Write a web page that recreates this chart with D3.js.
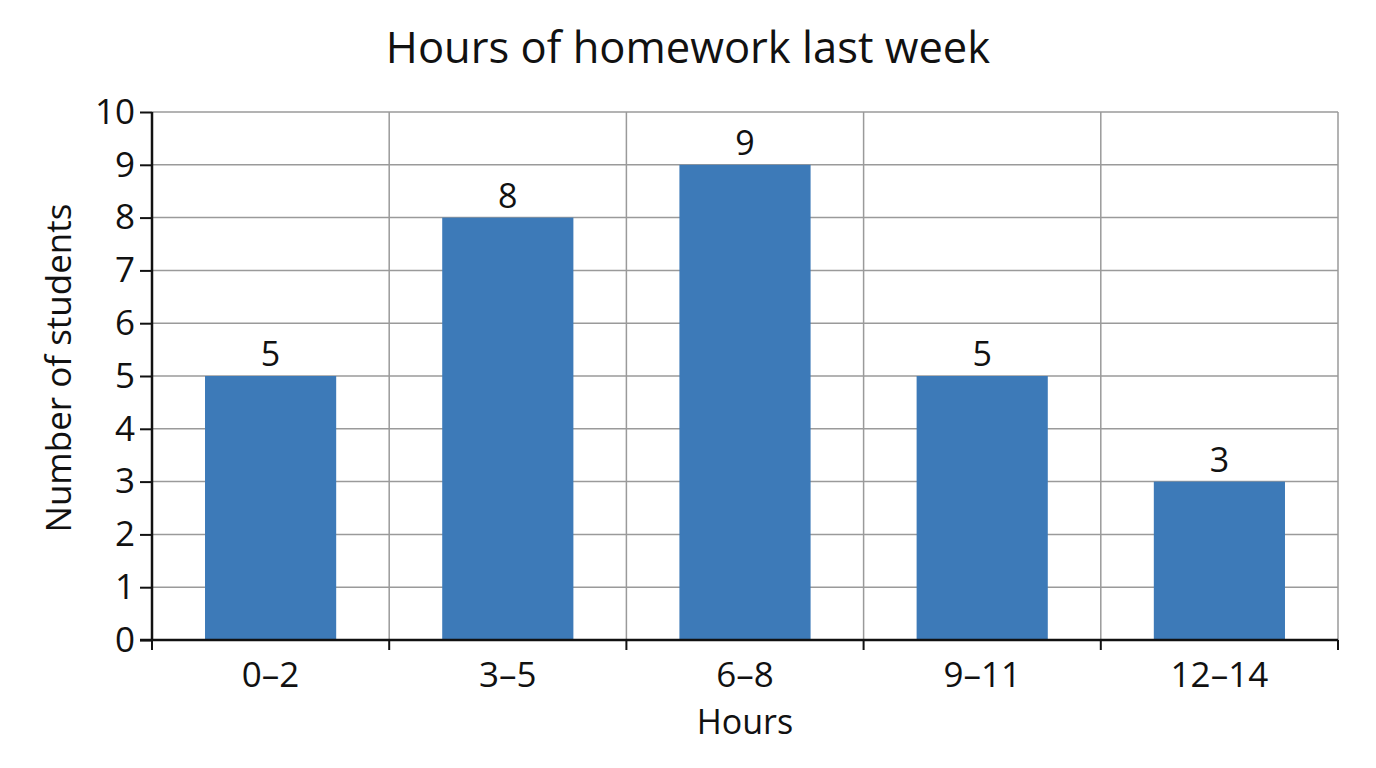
<!DOCTYPE html>
<html>
<head>
<meta charset="utf-8">
<script src="https://cdn.jsdelivr.net/npm/d3@7"></script>
<style>
  body { margin: 0; background: #fff; }
  text { font-family: "Open Sans", "Noto Sans", sans-serif; fill: #111; }
</style>
</head>
<body>
<div id="chart"></div>
<script>
// data
var categories = ["0–2", "3–5", "6–8", "9–11", "12–14"];
var students = [5, 8, 9, 5, 3];
var yTicks = [0, 1, 2, 3, 4, 5, 6, 7, 8, 9, 10];

var svgWidth = 1376;
var svgHeight = 768;
var margin = { top: 112, right: 38, bottom: 128, left: 152 };
var width = svgWidth - margin.left - margin.right;
var height = svgHeight - margin.top - margin.bottom;

var svg = d3.select("#chart")
    .append("svg")
    .attr("width", svgWidth)
    .attr("height", svgHeight);

var g = svg.append("g")
    .attr("transform", "translate(" + margin.left + "," + margin.top + ")");

var x = d3.scaleBand()
    .domain(categories)
    .range([0, width])
    .paddingInner(0.447)
    .paddingOuter(0.2235);

var xEdges = d3.scaleBand().domain(categories).range([0, width]);

var y = d3.scaleLinear()
    .domain([0, 10])
    .range([height, 0]);

// horizontal grid
g.append("g")
    .selectAll("line")
    .data(yTicks)
    .enter()
    .append("line")
    .attr("x1", 0)
    .attr("x2", width)
    .attr("y1", function(d) { return y(d); })
    .attr("y2", function(d) { return y(d); })
    .attr("stroke", "#9a9a9a")
    .attr("stroke-width", 1.5);

// vertical grid at band edges
var edges = categories.map(function(c) { return xEdges(c); }).concat([width]);
g.append("g")
    .selectAll("line")
    .data(edges.slice(1))
    .enter()
    .append("line")
    .attr("x1", function(d) { return d; })
    .attr("x2", function(d) { return d; })
    .attr("y1", 0)
    .attr("y2", height)
    .attr("stroke", "#9a9a9a")
    .attr("stroke-width", 1.5);

// bars
g.selectAll(".bar")
    .data(students)
    .enter()
    .append("rect")
    .attr("class", "bar")
    .attr("x", function(d, i) { return x(categories[i]); })
    .attr("y", function(d) { return y(d); })
    .attr("width", x.bandwidth())
    .attr("height", function(d) { return height - y(d); })
    .attr("fill", "#3d7ab8");

// value labels
g.selectAll(".val")
    .data(students)
    .enter()
    .append("text")
    .attr("class", "val")
    .attr("x", function(d, i) { return x(categories[i]) + x.bandwidth() / 2; })
    .attr("y", function(d) { return y(d) - 10; })
    .attr("text-anchor", "middle")
    .attr("font-size", "34px")
    .text(function(d) { return d; });

// y axis
var yAxis = g.append("g")
    .call(d3.axisLeft(y).tickValues(yTicks).tickSize(12).tickPadding(5));
yAxis.selectAll("text").attr("font-size", "35px").attr("fill", "#111");
yAxis.selectAll("line").attr("stroke", "#111").attr("stroke-width", 2);
yAxis.select(".domain").attr("stroke", "#111").attr("stroke-width", 2.5).attr("d", "M0," + height + "V0");

// x axis
var xAxisG = g.append("g")
    .attr("transform", "translate(0," + height + ")");
xAxisG.append("line")
    .attr("x1", -12)
    .attr("x2", width)
    .attr("stroke", "#111")
    .attr("stroke-width", 2.5);
xAxisG.selectAll(".tick")
    .data(edges)
    .enter()
    .append("line")
    .attr("x1", function(d) { return d; })
    .attr("x2", function(d) { return d; })
    .attr("y1", 0)
    .attr("y2", 10)
    .attr("stroke", "#111")
    .attr("stroke-width", 2);
xAxisG.selectAll(".lbl")
    .data(categories)
    .enter()
    .append("text")
    .attr("x", function(d) { return x(d) + x.bandwidth() / 2; })
    .attr("y", 47)
    .attr("text-anchor", "middle")
    .attr("font-size", "35px")
    .text(function(d) { return d; });

// titles
svg.append("text")
    .attr("x", 688)
    .attr("y", 63)
    .attr("text-anchor", "middle")
    .attr("font-size", "43.5px")
    .text("Hours of homework last week");

svg.append("text")
    .attr("x", margin.left + width / 2)
    .attr("y", 734)
    .attr("text-anchor", "middle")
    .attr("font-size", "34px")
    .text("Hours");

svg.append("text")
    .attr("transform", "translate(71," + (margin.top + height / 2 - 8) + ") rotate(-90)")
    .attr("text-anchor", "middle")
    .attr("font-size", "35px")
    .text("Number of students");
</script>
</body>
</html>
